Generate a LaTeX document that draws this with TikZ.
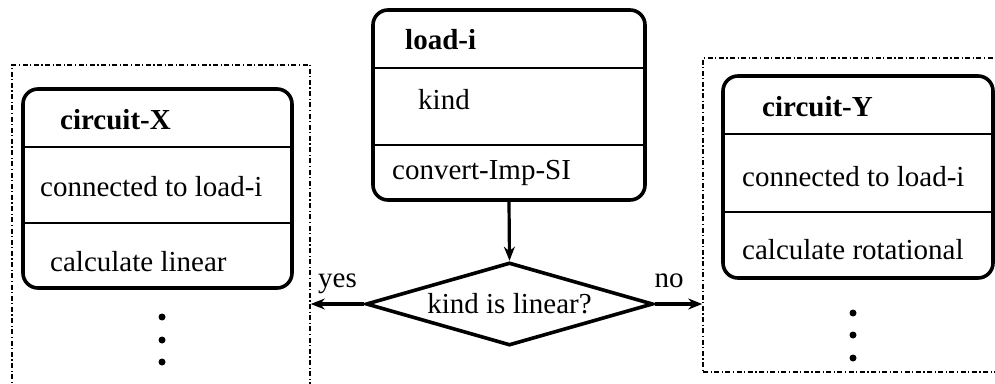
\documentclass[tikz,border=0pt]{standalone}
\usepackage{fontspec}
\setmainfont{LiberationSerif}[Extension=.ttf, UprightFont=*-Regular, BoldFont=*-Bold]
\usetikzlibrary{arrows.meta,positioning,shapes.geometric}

\begin{document}
\begin{tikzpicture}[x=1pt,y=1pt,
    objbox/.style={draw, line width=3.6pt, rounded corners=15pt, inner sep=0pt},
    grpbox/.style={draw, line width=1.6pt, dash pattern=on 5pt off 2.5pt on 1.2pt off 2.5pt, inner sep=0pt},
    divider/.style={line width=2.8pt},
    txt/.style={anchor=west, inner sep=0pt, font=\fontsize{29}{34}\selectfont},
    decide/.style={draw, diamond, aspect=3.46, line width=3.6pt, inner sep=0pt,
                   minimum width=287pt, minimum height=83pt, font=\fontsize{29}{34}\selectfont},
    flow/.style={-{Stealth[length=14pt,width=11pt]}, line width=3.2pt},
    answer/.style={anchor=base, inner sep=0pt, yshift=17pt, font=\fontsize{29}{34}\selectfont}
]
\clip (0,0) rectangle (995,383);

\node[grpbox, minimum width=298pt, minimum height=338pt] (grpX) at (161,149) {};
\node[grpbox, minimum width=307pt, minimum height=314pt] (grpY) at (856.5,168) {};

\node[objbox, minimum width=269pt, minimum height=199pt] (cx) at (157.5,194.5) {};
\draw[divider] (cx.west |- 0,236) -- (cx.east |- 0,236);
\draw[divider] (cx.west |- 0,160) -- (cx.east |- 0,160);
\node[txt] (cxname) at (60,263) {\textbf{circuit-X}};
\node[txt] (cxattr) at (40,196) {connected to load-i};
\node[txt] (cxop) at (50,121) {calculate linear};
\foreach \yy in {66,43,21} \fill (162,\yy) circle (3.5pt);

\node[objbox, minimum width=272pt, minimum height=190pt] (load) at (509,278) {};
\draw[divider] (load.west |- 0,315) -- (load.east |- 0,315);
\draw[divider] (load.west |- 0,238) -- (load.east |- 0,238);
\node[txt] (loadname) at (405,343) {\textbf{load-i}};
\node[txt] (loadattr) at (418,283) {kind};
\node[txt] (loadop) at (392,210) {convert-Imp-SI};

\node[objbox, minimum width=270pt, minimum height=202pt] (cy) at (858,206) {};
\draw[divider] (cy.west |- 0,249) -- (cy.east |- 0,249);
\draw[divider] (cy.west |- 0,171) -- (cy.east |- 0,171);
\node[txt] (cyname) at (762,276) {\textbf{circuit-Y}};
\node[txt] (cyattr) at (742,206) {connected to load-i};
\node[txt] (cyop) at (742,133) {calculate rotational};
\foreach \yy in {70,48,25} \fill (853,\yy) circle (3.5pt);

\node[decide] (dec) at (509.5,79) {kind is linear?};

\draw[flow] (load.south) -- (dec.north);
\draw[flow] (dec.west) -- (dec.west -| grpX.east) node[answer, midway] {yes};
\draw[flow] (dec.east) -- (dec.east -| grpY.west) node[answer, pos=0.3] {no};
\end{tikzpicture}
\end{document}
